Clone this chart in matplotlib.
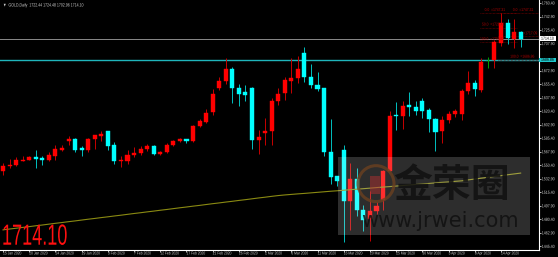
import matplotlib
matplotlib.use("Agg")
import matplotlib.pyplot as plt
from matplotlib.patches import Rectangle, Ellipse
from matplotlib.patheffects import AbstractPathEffect
from matplotlib.transforms import Affine2D

# ---------------- data ----------------
opens = [1543.4, 1549.2, 1551.2, 1556.3, 1557.6, 1561.5, 1559.8, 1557.6, 1562.8, 1570.5,
         1581.3, 1584.8, 1572.2, 1569.6, 1584.4, 1588.6, 1594.2, 1576.6, 1555.4, 1556.0,
         1563.2, 1566.3, 1571.8, 1574.8, 1565.0, 1567.6, 1576.1, 1581.8, 1583.8, 1581.3,
         1600.6, 1606.7, 1619.0, 1650.0, 1659.0, 1675.0, 1650.0, 1645.0, 1651.0, 1583.5,
         1592.1, 1594.2, 1634.0, 1643.8, 1660.0, 1664.0, 1695.4, 1665.2, 1654.5, 1650.3,
         1567.0, 1536.0, 1569.6, 1504.7, 1533.0, 1493.0, 1481.1, 1491.0, 1506.0, 1543.4,
         1615.8, 1613.6, 1627.8, 1625.2, 1633.0, 1621.3, 1610.2, 1594.2, 1608.4, 1616.7,
         1617.1, 1646.0, 1657.0, 1648.0, 1685.5, 1686.8, 1708.7, 1734.6, 1714.0, 1722.44]
highs = [1553.8, 1558.9, 1561.1, 1561.9, 1562.8, 1569.6, 1561.9, 1567.1, 1576.6, 1576.6,
         1588.6, 1585.5, 1575.7, 1585.7, 1589.9, 1594.2, 1594.5, 1580.5, 1562.8, 1569.6,
         1574.0, 1574.8, 1577.9, 1577.0, 1569.3, 1579.2, 1583.5, 1586.1, 1584.2, 1602.8,
         1610.6, 1623.5, 1649.0, 1665.0, 1689.0, 1677.0, 1656.0, 1654.0, 1652.0, 1596.0,
         1611.9, 1637.0, 1650.0, 1665.0, 1688.6, 1691.5, 1704.0, 1682.0, 1671.6, 1650.3,
         1610.0, 1536.0, 1577.0, 1553.6, 1546.7, 1499.5, 1516.6, 1503.0, 1544.7, 1620.0,
         1632.6, 1633.0, 1645.3, 1633.0, 1637.3, 1624.4, 1611.5, 1614.5, 1621.0, 1623.5,
         1649.0, 1673.0, 1661.0, 1689.4, 1690.2, 1712.0, 1747.3, 1739.7, 1739.7, 1724.48]
lows = [1538.3, 1547.3, 1549.9, 1555.4, 1557.0, 1547.3, 1550.8, 1555.4, 1557.2, 1568.4,
        1576.1, 1567.6, 1562.8, 1568.0, 1571.5, 1581.3, 1569.6, 1551.6, 1548.2, 1552.5,
        1561.1, 1564.1, 1568.4, 1563.2, 1564.1, 1566.3, 1574.8, 1580.9, 1579.2, 1580.5,
        1599.9, 1605.0, 1615.0, 1648.0, 1655.0, 1631.0, 1627.0, 1633.0, 1571.8, 1565.0,
        1577.0, 1577.0, 1628.0, 1635.0, 1643.8, 1657.1, 1658.0, 1650.5, 1647.0, 1562.0,
        1526.6, 1523.0, 1451.0, 1466.5, 1484.5, 1465.6, 1453.0, 1487.0, 1493.0, 1543.0,
        1596.0, 1597.0, 1614.3, 1615.7, 1611.5, 1593.0, 1568.3, 1578.6, 1605.0, 1613.5,
        1609.0, 1642.0, 1640.0, 1645.0, 1676.0, 1676.0, 1705.0, 1707.0, 1701.9, 1702.96]
closes = [1549.9, 1551.2, 1556.7, 1557.6, 1561.5, 1559.0, 1557.6, 1563.2, 1571.5, 1572.2,
          1584.4, 1570.5, 1569.6, 1584.8, 1589.5, 1590.8, 1575.7, 1556.3, 1557.6, 1564.1,
          1566.3, 1571.8, 1574.8, 1565.0, 1568.0, 1576.1, 1582.2, 1584.8, 1581.8, 1601.5,
          1607.6, 1618.7, 1643.0, 1660.0, 1675.0, 1650.0, 1642.0, 1641.0, 1583.5, 1586.4,
          1595.4, 1633.0, 1642.0, 1661.0, 1664.0, 1674.8, 1665.2, 1654.5, 1649.3, 1567.6,
          1535.3, 1529.6, 1504.7, 1533.0, 1493.0, 1480.1, 1490.9, 1497.4, 1543.4, 1614.5,
          1613.6, 1627.4, 1625.2, 1620.9, 1620.9, 1610.2, 1592.9, 1609.3, 1616.7, 1621.0,
          1646.8, 1656.7, 1649.3, 1684.2, 1685.5, 1710.4, 1734.6, 1715.0, 1722.9, 1714.10]
ma200 = [1466.8, 1467.9, 1468.9, 1470.0, 1471.0, 1472.1, 1473.1, 1474.2, 1475.3, 1476.3,
         1477.4, 1478.4, 1479.5, 1480.6, 1481.6, 1482.7, 1483.7, 1484.8, 1485.8, 1486.9,
         1488.0, 1489.0, 1490.1, 1491.1, 1492.2, 1493.2, 1494.3, 1495.4, 1496.4, 1497.5,
         1498.5, 1499.6, 1500.7, 1501.7, 1502.8, 1503.8, 1504.9, 1505.9, 1507.0, 1508.1,
         1509.1, 1510.2, 1511.2, 1512.0, 1512.7, 1513.4, 1514.0, 1514.7, 1515.4, 1516.1,
         1516.8, 1517.4, 1518.1, 1518.8, 1519.5, 1520.1, 1520.8, 1521.5, 1522.2, 1522.8,
         1523.5, 1524.2, 1524.9, 1525.6, 1526.2, 1526.9, 1527.6, 1528.3, 1528.9, 1529.6,
         1530.3, 1531.5, 1532.6, 1533.7, 1534.8, 1535.9, 1537.0, 1538.1, 1539.2, 1540.3]

date_labels = ['15 Jan 2020', '20 Jan 2020', '24 Jan 2020', '29 Jan 2020', '3 Feb 2020',
               '7 Feb 2020', '12 Feb 2020', '17 Feb 2020', '21 Feb 2020', '26 Feb 2020',
               '2 Mar 2020', '6 Mar 2020', '11 Mar 2020', '16 Mar 2020', '20 Mar 2020',
               '25 Mar 2020', '30 Mar 2020', '3 Apr 2020', '8 Apr 2020', '14 Apr 2020']
label_bars = [0, 4, 8, 12, 16, 20, 24, 28, 32, 36, 40, 44, 48, 52, 56, 60, 64, 68, 72, 76]

price_ticks = [1445.40, 1462.90, 1480.40, 1497.90, 1515.40, 1532.90, 1550.40, 1567.90,
               1585.40, 1602.90, 1620.40, 1637.90, 1655.40, 1672.90, 1707.90, 1725.40,
               1742.90, 1760.40]

last_price = 1714.10
level_line = 1686.86
title = "GOLD,Daily  1722.44 1724.48 1702.96 1714.10"

fib_a = [("0.0", 1747.31), ("50.0", 1728.42), ("100.0", 1709.52)]
fib_b = [("0.0", 1747.31), ("50.0", 1717.09), ("100.0", 1686.86)]


# ------------- horizontally condensed text (still real text) -------------
class Condense(AbstractPathEffect):
    def __init__(self, sx):
        super().__init__()
        self.sx = sx

    def draw_path(self, renderer, gc, tpath, affine, rgbFace=None):
        renderer.draw_path(gc, tpath, Affine2D().scale(self.sx, 1.0) + affine, rgbFace)


FONT = ['Liberation Sans', 'DejaVu Sans']
SMALL = 3.2
TXT = '#d0d0d0'
cond = [Condense(0.8)]

# ---------------- figure ----------------
W, H = 558, 257
fig = plt.figure(figsize=(W / 100, H / 100), dpi=100, facecolor='black')
ax = fig.add_axes([0, 7.5 / H, 539 / W, 249.5 / H])
ax.set_facecolor('black')

n = len(opens)
xs = list(range(n))
up, down, doji = '#ff0000', '#00ffff', '#00a000'
wick_up, wick_down = '#c80000', '#00c0c0'

body_col, wick_col, bottoms, heights = [], [], [], []
for o, c in zip(opens, closes):
    if c > o:
        body_col.append(up); wick_col.append(wick_up)
    elif c < o:
        body_col.append(down); wick_col.append(wick_down)
    else:
        body_col.append(doji); wick_col.append(doji)
    bottoms.append(min(o, c))
    heights.append(abs(c - o))

ax.vlines(xs, lows, highs, colors=wick_col, lw=0.7, zorder=2)
ax.bar(xs, heights, bottom=bottoms, width=0.62, color=body_col, edgecolor=body_col,
       linewidth=0.3, zorder=3)

ax.plot(xs, ma200, color='#8a8a12', lw=0.8, zorder=4)

ax.axhline(last_price, color='#8a8a8a', lw=0.7, zorder=1)
ax.axhline(level_line, color='#1fb5bb', lw=1.0, zorder=1)

# fib lines / labels
for (lab, v) in fib_a:
    ax.plot([72.8, 78.5], [v, v], color='#7a0000', lw=0.5, ls=(0, (1, 1)), zorder=1)
for (lab, v) in fib_b:
    ax.plot([75.5, 81.8], [v, v], color='#7a0000', lw=0.5, ls=(0, (1, 1)), zorder=1)
ax.plot([76, 76], [1744, 1720], color='#2a7a2a', lw=0.6, ls=(0, (1, 1)), zorder=1)

fib_font = dict(fontsize=3.0, family=FONT, color='#b00000', zorder=6, path_effects=cond)
ax.text(73.5, fib_a[0][1] + 1.5, f"{fib_a[0][0]}  ={fib_a[0][1]:.2f}", va='bottom', **fib_font)
ax.text(73.1, fib_a[1][1] + 1.5, f"{fib_a[1][0]}  ={fib_a[1][1]:.2f}", va='bottom', **fib_font)
ax.text(72.8, fib_a[2][1] + 1.5, f"{fib_a[2][0]}  ={fib_a[2][1]:.2f}", va='bottom', **fib_font)
ax.text(77.8, fib_b[0][1] + 1.5, f"{fib_b[0][0]}  ={fib_b[0][1]:.2f}", va='bottom', **fib_font)
ax.text(79.4, fib_b[1][1] + 1.5, f"={fib_b[1][1]:.2f}", va='bottom', **fib_font)
ax.text(77.4, fib_b[2][1] + 1.5, f"{fib_b[2][0]}  ={fib_b[2][1]:.2f}", va='bottom', **fib_font)

# axes limits / spines
ax.set_xlim(-0.46, 81.8)
ax.set_ylim(1441.4, 1764.3)
for s in ('left', 'top'):
    ax.spines[s].set_visible(False)
for s in ('right', 'bottom'):
    ax.spines[s].set_color('white')
    ax.spines[s].set_linewidth(0.8)

ax.yaxis.tick_right()
ax.set_yticks(price_ticks)
ax.set_yticklabels([f"{v:.2f}" for v in price_ticks], fontsize=SMALL, family=FONT, color=TXT)
ax.set_xticks(label_bars)
ax.set_xticklabels(date_labels, fontsize=3.0, family=FONT, color=TXT, ha='left')
ax.tick_params(axis='y', direction='out', length=1.2, width=0.5, color='white', pad=0.8)
ax.tick_params(axis='x', direction='out', length=1.2, width=0.5, color='white', pad=0.2)
for lbl in ax.get_yticklabels() + ax.get_xticklabels():
    lbl.set_path_effects(cond)

# price boxes on the axis
ytr = ax.get_yaxis_transform()
for val, fc in ((last_price, 'white'), (level_line, '#1fc8cc')):
    ax.add_patch(Rectangle((1.0, val - 3.0), 17 / 539, 6.0, transform=ytr, fc=fc, ec='none',
                           clip_on=False, zorder=9))
    ax.text(1.0 + 2.0 / 539, val, f"{val:.2f}", transform=ytr, ha='left', va='center',
            fontsize=SMALL, family=FONT, color='black', clip_on=False, zorder=10,
            path_effects=cond)

# title
ax.text(3 / 539, (250 - 5) / 250, "▼  " + title, transform=ax.transAxes, ha='left',
        va='center', fontsize=3.4, family=FONT, color=TXT, zorder=10, path_effects=[Condense(0.75)])

# big price text
ax.text(2 / 539, (250 - 245.2) / 250, f"{last_price:.2f}", transform=ax.transAxes,
        ha='left', va='baseline', fontsize=21, family=FONT, color='#ff1010', zorder=10,
        path_effects=[Condense(0.62)])

# watermark
ax.add_patch(Rectangle((338 / 539, (250 - 235) / 250), 192 / 539, 78 / 250,
                       transform=ax.transAxes, fc='white', alpha=0.18, ec='none', zorder=5))
ax.add_patch(Ellipse((376 / 539, (250 - 184) / 250), 36 / 539, 36 / 250,
                     transform=ax.transAxes, fc='none', ec='#6b4020', lw=2.2, alpha=0.8, zorder=6))
ax.add_patch(Rectangle((370 / 539, (250 - 194) / 250), 10 / 539, 18 / 250,
                       transform=ax.transAxes, fc='#b03030', ec='none', alpha=0.5, zorder=6))
ax.text(452 / 539, (250 - 186) / 250, "金荣圈", transform=ax.transAxes, ha='center', va='center',
        fontsize=28, family=['Noto Sans CJK SC', 'DejaVu Sans'], fontweight='bold',
        color='#101010', alpha=0.85, zorder=6)
ax.text(440 / 539, (250 - 221) / 250, "www.jrwei.com", transform=ax.transAxes, ha='center',
        va='center', fontsize=15, family=['DejaVu Sans'], color='#101010', alpha=0.85, zorder=6)

fig.savefig("out.png", dpi=100, facecolor='black')
